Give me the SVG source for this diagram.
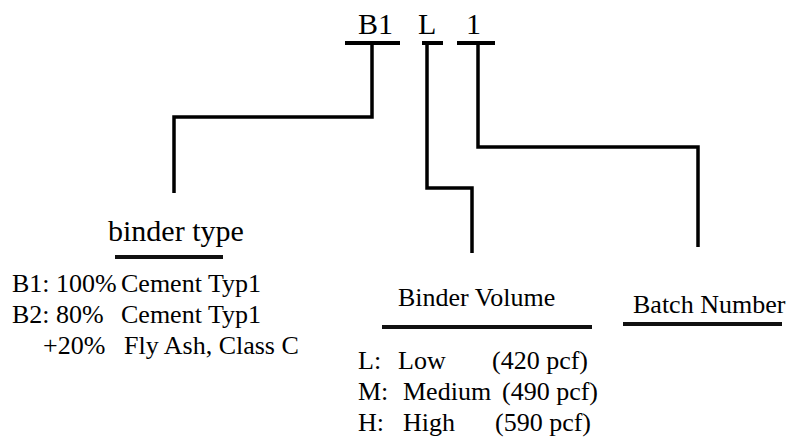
<svg xmlns="http://www.w3.org/2000/svg" width="798" height="442" viewBox="0 0 798 442">
<style>
text{font-family:"Liberation Serif","Times New Roman",serif;fill:#000}
.code{font-size:30px}
.title{font-size:30px}
.lbl{font-size:26px}
.row{font-size:26px}
.bar{stroke:#000;stroke-width:4;fill:none}
.ul{stroke:#111;stroke-width:4;fill:none}
.conn{stroke:#000;stroke-width:3.5;fill:none;stroke-linejoin:miter}
</style>
<rect width="798" height="442" fill="#fff"/>
<g id="code-b1">
<text class="code" x="358" y="34">B1</text>
<line class="bar" x1="345" y1="43" x2="400" y2="43"/>
</g>
<g id="code-l">
<text class="code" x="418" y="34">L</text>
<line class="bar" x1="422" y1="43" x2="443" y2="43"/>
</g>
<g id="code-1">
<text class="code" x="466" y="34">1</text>
<line class="bar" x1="457" y1="43" x2="495" y2="43"/>
</g>
<g id="connectors">
<path class="conn" d="M372,43 V117 H174 V193"/>
<path class="conn" d="M427,43 V188 H472 V253"/>
<path class="conn" d="M478,43 V147 H698 V247"/>
</g>
<g id="binder-type">
<text class="title" x="108" y="241">binder type</text>
<line class="ul" x1="115" y1="257" x2="223" y2="257"/>
<text class="row" y="292"><tspan x="12">B1: 100%</tspan><tspan x="121">Cement Typ1</tspan></text>
<text class="row" y="323"><tspan x="12">B2: 80%</tspan><tspan x="121">Cement Typ1</tspan></text>
<text class="row" y="354"><tspan x="43">+20%</tspan><tspan x="124">Fly Ash, Class C</tspan></text>
</g>
<g id="binder-volume">
<text class="lbl" x="398" y="306">Binder Volume</text>
<line class="ul" x1="382" y1="327" x2="592" y2="327"/>
<text class="row" y="369"><tspan x="358">L:</tspan><tspan x="398">Low</tspan><tspan x="492">(420 pcf)</tspan></text>
<text class="row" y="400"><tspan x="358">M:</tspan><tspan x="403">Medium</tspan><tspan x="502">(490 pcf)</tspan></text>
<text class="row" y="431"><tspan x="358">H:</tspan><tspan x="403">High</tspan><tspan x="495">(590 pcf)</tspan></text>
</g>
<g id="batch-number">
<text class="lbl" x="633" y="313">Batch Number</text>
<line class="ul" x1="623" y1="324" x2="782" y2="324"/>
</g>
</svg>
